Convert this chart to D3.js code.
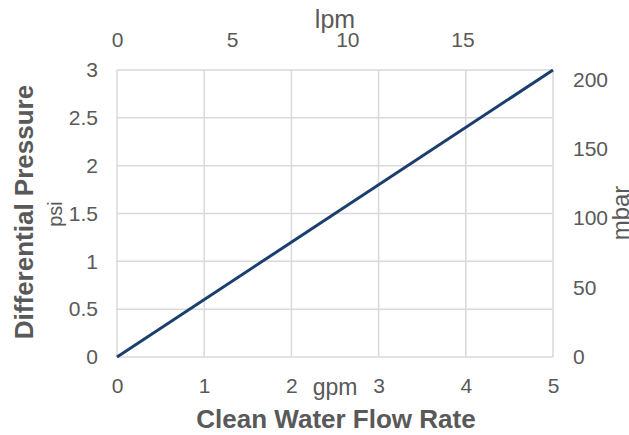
<!DOCTYPE html>
<html>
<head>
<meta charset="utf-8">
<script src="https://cdn.jsdelivr.net/npm/d3@7"></script>
<style>
  body { margin: 0; background: #fff; overflow: hidden; }
  text { font-family: "Liberation Sans", Arial, sans-serif; }
</style>
</head>
<body>
<div id="container"></div>
<script>
// data: flow (gpm) vs differential pressure (psi)
const flowGpm = [0, 5];
const pressurePsi = [0, 3];
const gpmTicks = [0, 1, 2, 3, 4, 5];
const psiTicks = [0, 0.5, 1, 1.5, 2, 2.5, 3];
const lpmTicks = [0, 5, 10, 15];
const mbarTicks = [0, 50, 100, 150, 200];
const LPM_PER_GPM = 3.78541;
const MBAR_PER_PSI = 68.9476;

const width = 629, height = 435;
const plotLeft = 117, plotRight = 553, plotTop = 70, plotBottom = 357;
const textColor = "#595959";
const gridColor = "#d9d9d9";

const svg = d3.select("#container")
  .append("svg")
  .attr("width", width)
  .attr("height", height);

const x = d3.scaleLinear().domain([0, 5]).range([plotLeft, plotRight]);
const y = d3.scaleLinear().domain([0, 3]).range([plotBottom, plotTop]);
const xTop = d3.scaleLinear().domain([0, 5 * LPM_PER_GPM]).range([plotLeft, plotRight]);
const yRight = d3.scaleLinear().domain([0, 3 * MBAR_PER_PSI]).range([plotBottom, plotTop]);

// grid
svg.append("g")
  .selectAll("line")
  .data(gpmTicks)
  .join("line")
  .attr("x1", d => x(d)).attr("x2", d => x(d))
  .attr("y1", plotTop).attr("y2", plotBottom)
  .attr("stroke", gridColor).attr("stroke-width", 1.5);

svg.append("g")
  .selectAll("line")
  .data(psiTicks)
  .join("line")
  .attr("x1", plotLeft).attr("x2", plotRight)
  .attr("y1", d => y(d)).attr("y2", d => y(d))
  .attr("stroke", gridColor).attr("stroke-width", 1.5);

// axes (labels only, no domain/ticks)
const fmt = d3.format("~g");
function styleAxis(g) {
  g.select(".domain").remove();
  g.selectAll(".tick line").remove();
  g.selectAll("text")
    .attr("fill", textColor)
    .style("font-size", "21px")
    .style("font-family", "Liberation Sans, Arial, sans-serif");
}

svg.append("g")
  .attr("transform", `translate(0,${plotBottom})`)
  .call(d3.axisBottom(x).tickValues(gpmTicks).tickFormat(fmt).tickSize(0).tickPadding(21))
  .call(styleAxis);

svg.append("g")
  .attr("transform", `translate(${plotLeft},0)`)
  .call(d3.axisLeft(y).tickValues(psiTicks).tickFormat(fmt).tickSize(0).tickPadding(19))
  .call(styleAxis);

svg.append("g")
  .attr("transform", `translate(0,${plotTop})`)
  .call(d3.axisTop(xTop).tickValues(lpmTicks).tickFormat(fmt).tickSize(0).tickPadding(23))
  .call(styleAxis);

svg.append("g")
  .attr("transform", `translate(${plotRight},0)`)
  .call(d3.axisRight(yRight).tickValues(mbarTicks).tickFormat(fmt).tickSize(0).tickPadding(20))
  .call(styleAxis);

// data line
const line = d3.line()
  .x((d, i) => x(flowGpm[i]))
  .y(d => y(d));

svg.append("path")
  .datum(pressurePsi)
  .attr("d", line)
  .attr("fill", "none")
  .attr("stroke", "#1b3e6f")
  .attr("stroke-width", 3);

// titles
svg.append("text")
  .attr("x", 336).attr("y", 428)
  .attr("text-anchor", "middle")
  .attr("fill", textColor)
  .style("font-size", "26px").style("font-weight", "bold")
  .text("Clean Water Flow Rate");

svg.append("text")
  .attr("x", 335).attr("y", 395)
  .attr("text-anchor", "middle")
  .attr("fill", textColor)
  .style("font-size", "23px")
  .text("gpm");

svg.append("text")
  .attr("x", 335).attr("y", 28)
  .attr("text-anchor", "middle")
  .attr("fill", textColor)
  .style("font-size", "25px")
  .text("lpm");

svg.append("text")
  .attr("transform", "translate(33,212) rotate(-90)")
  .attr("text-anchor", "middle")
  .attr("fill", textColor)
  .style("font-size", "26px").style("font-weight", "bold")
  .text("Differential Pressure");

svg.append("text")
  .attr("transform", "translate(62,214) rotate(-90)")
  .attr("text-anchor", "middle")
  .attr("fill", textColor)
  .style("font-size", "20px")
  .text("psi");

svg.append("text")
  .attr("transform", "translate(629,213) rotate(-90)")
  .attr("text-anchor", "middle")
  .attr("fill", textColor)
  .style("font-size", "24px")
  .text("mbar");
</script>
</body>
</html>
